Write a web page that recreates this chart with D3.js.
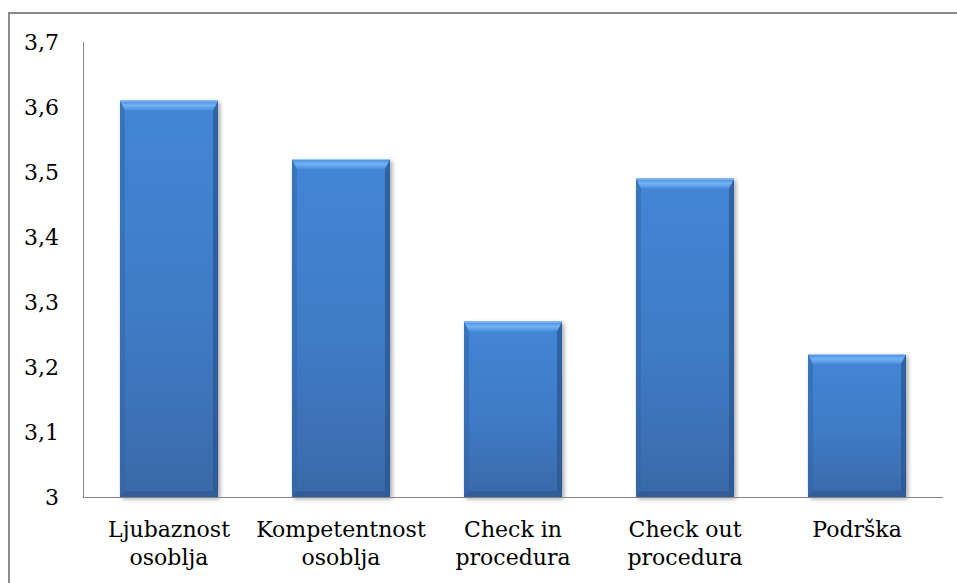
<!DOCTYPE html>
<html>
<head>
<meta charset="utf-8">
<script src="https://cdn.jsdelivr.net/npm/d3@7"></script>
<style>
  body { margin: 0; background: #fff; }
  svg { display: block; }
</style>
</head>
<body>
<svg id="chart" width="957" height="583"></svg>
<script>
// data
let categories = [["Ljubaznost", "osoblja"], ["Kompetentnost", "osoblja"], ["Check in", "procedura"], ["Check out", "procedura"], ["Podrška"]];
let values = [3.61, 3.52, 3.27, 3.49, 3.22];
let yTicks = [3, 3.1, 3.2, 3.3, 3.4, 3.5, 3.6, 3.7];

let chart = d3.select("#chart");
let serif = "'DejaVu Serif', 'Liberation Serif', serif";
let stretch = 1.0;

// outer frame, runs off the right and bottom of the picture
chart.append("rect")
    .attr("x", 9).attr("y", 13)
    .attr("width", 1000).attr("height", 600)
    .attr("fill", "none")
    .attr("stroke", "#8a8a8a")
    .attr("stroke-width", 2);

let xScale = d3.scaleBand()
    .domain(d3.range(values.length))
    .range([83, 943])
    .paddingInner(0.43)
    .paddingOuter(0.215);

let yScale = d3.scaleLinear()
    .domain([3, 3.7])
    .range([497, 42]);

let defs = chart.append("defs");

let body = defs.append("linearGradient").attr("id", "barBody")
    .attr("x1", 0).attr("y1", 0).attr("x2", 0).attr("y2", 1);
body.append("stop").attr("offset", "0%").attr("stop-color", "#4386d6");
body.append("stop").attr("offset", "55%").attr("stop-color", "#3f7bc6");
body.append("stop").attr("offset", "100%").attr("stop-color", "#3a69a9");

let topBevel = defs.append("linearGradient").attr("id", "barTop")
    .attr("x1", 0).attr("y1", 0).attr("x2", 0).attr("y2", 1);
topBevel.append("stop").attr("offset", "0%").attr("stop-color", "#4a8ad8");
topBevel.append("stop").attr("offset", "50%").attr("stop-color", "#72b2f5");
topBevel.append("stop").attr("offset", "100%").attr("stop-color", "#4a8ddb");

let shadow = defs.append("filter").attr("id", "shadow")
    .attr("x", "-10%").attr("y", "-10%").attr("width", "130%").attr("height", "130%");
shadow.append("feDropShadow")
    .attr("dx", 2).attr("dy", 2).attr("stdDeviation", 2)
    .attr("flood-color", "#000").attr("flood-opacity", 0.35);

let bevel = 10, side = 5, bottom = 6;

let bars = chart.selectAll("g.bar")
    .data(values).enter()
        .append("g")
            .attr("class", "bar")
            .attr("filter", "url(#shadow)");

bars.append("rect")
    .attr("x", (d, i) => xScale(i))
    .attr("y", d => yScale(d))
    .attr("width", xScale.bandwidth())
    .attr("height", d => yScale(3) - yScale(d))
    .attr("fill", "url(#barBody)");

// darker side edges
bars.append("polygon")
    .attr("fill", "#3266a6")
    .attr("opacity", 0.55)
    .attr("points", function(d, i){
        let x0 = xScale(i), y0 = yScale(d), y1 = yScale(3);
        return [[x0, y0], [x0 + side, y0 + bevel], [x0 + side, y1 - bottom], [x0, y1]].join(" ");
    });

bars.append("polygon")
    .attr("fill", "#2a5790")
    .attr("opacity", 0.75)
    .attr("points", function(d, i){
        let x1 = xScale(i) + xScale.bandwidth(), y0 = yScale(d), y1 = yScale(3);
        return [[x1, y0], [x1 - side, y0 + bevel], [x1 - side, y1 - bottom], [x1, y1]].join(" ");
    });

// bottom strip
bars.append("polygon")
    .attr("fill", "#2e5a94")
    .attr("opacity", 0.8)
    .attr("points", function(d, i){
        let x0 = xScale(i), x1 = x0 + xScale.bandwidth(), y1 = yScale(3);
        return [[x0, y1], [x0 + side, y1 - bottom], [x1 - side, y1 - bottom], [x1, y1]].join(" ");
    });

// light top bevel
bars.append("polygon")
    .attr("fill", "url(#barTop)")
    .attr("points", function(d, i){
        let x0 = xScale(i), x1 = x0 + xScale.bandwidth(), y0 = yScale(d);
        return [[x0, y0], [x1, y0], [x1 - side, y0 + bevel], [x0 + side, y0 + bevel]].join(" ");
    });

bars.append("line")
    .attr("x1", (d, i) => xScale(i)).attr("x2", (d, i) => xScale(i) + xScale.bandwidth())
    .attr("y1", d => yScale(d) + 0.5).attr("y2", d => yScale(d) + 0.5)
    .attr("stroke", "#9cc8f7").attr("stroke-width", 1);

// axes
chart.append("line")
    .attr("x1", 83.5).attr("x2", 83.5)
    .attr("y1", yScale(3.7)).attr("y2", yScale(3))
    .attr("stroke", "#868686");

chart.append("line")
    .attr("x1", 83).attr("x2", 943)
    .attr("y1", yScale(3) + 0.5).attr("y2", yScale(3) + 0.5)
    .attr("stroke", "#868686");

chart.selectAll("text.ytick")
    .data(yTicks).enter()
        .append("text")
            .attr("class", "ytick")
            .attr("transform", d => "translate(59," + yScale(d) + ") scale(" + stretch + ",1)")
            .attr("dy", "0.35em")
            .attr("font-family", serif)
            .attr("font-size", 22)
            .attr("text-anchor", "end")
            .attr("fill", "#000")
            .text(d => String(d).replace(".", ","));

let xLabels = chart.selectAll("g.xlabel")
    .data(categories).enter()
        .append("g")
            .attr("class", "xlabel")
            .attr("transform", (d, i) => "translate(" + (xScale(i) + xScale.bandwidth() / 2) + ",0)");

xLabels.selectAll("text")
    .data(d => d).enter()
        .append("text")
            .attr("transform", (d, j) => "translate(0," + (537 + j * 28) + ") scale(" + stretch + ",1)")
            .attr("font-family", serif)
            .attr("font-size", 22)
            .attr("text-anchor", "middle")
            .attr("fill", "#000")
            .text(d => d);
</script>
</body>
</html>
